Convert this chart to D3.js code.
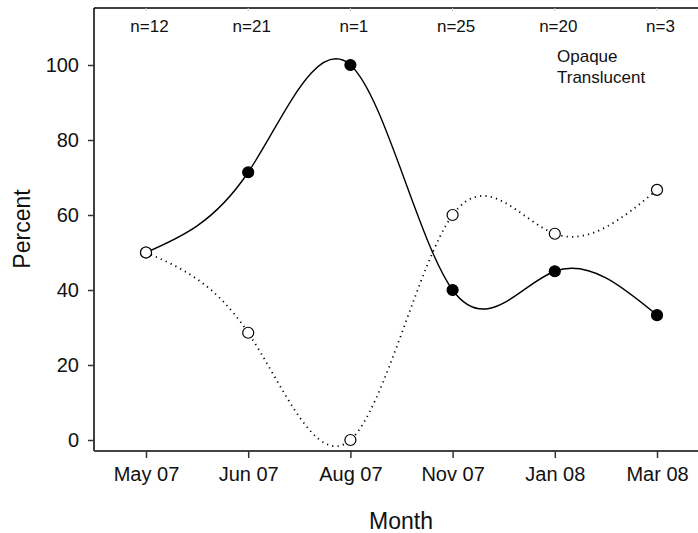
<!DOCTYPE html>
<html>
<head>
<meta charset="utf-8">
<script src="https://cdn.jsdelivr.net/npm/d3@7"></script>
<style>
  html, body { margin: 0; padding: 0; background: #fff; }
  svg { display: block; font-family: "Liberation Sans", Arial, sans-serif; }
</style>
</head>
<body>
<svg id="chart" width="698" height="533"></svg>
<script>
// Sampling months and sample sizes
const months = ["May 07", "Jun 07", "Aug 07", "Nov 07", "Jan 08", "Mar 08"];
const sampleSizes = [12, 21, 1, 25, 20, 3];

// Percent of samples in each class
const opaque = [50, 71.4, 100, 40, 45, 33.3];
const translucent = [50, 28.6, 0, 60, 55, 66.7];

const yTicks = [0, 20, 40, 60, 80, 100];
const legendLabels = ["Opaque", "Translucent"];

const svg = d3.select("#chart");
const frame = { left: 94, top: 8, right: 698, bottom: 451 };

const x = d3.scalePoint().domain(months).range([146, 657]);
const y = d3.scaleLinear().domain([0, 100]).range([440, 65]);

// frame: top and left borders
svg.append("line").attr("x1", frame.left).attr("x2", frame.right).attr("y1", frame.top).attr("y2", frame.top)
  .attr("stroke", "#000").attr("stroke-width", 1.5);
svg.append("line").attr("x1", frame.left).attr("x2", frame.left).attr("y1", frame.top).attr("y2", frame.bottom)
  .attr("stroke", "#000").attr("stroke-width", 1.5);

// faint ticks along the top border
svg.append("g").selectAll("line").data(months).join("line")
  .attr("x1", d => x(d)).attr("x2", d => x(d))
  .attr("y1", frame.top).attr("y2", frame.top + 3)
  .attr("stroke", "#ccc").attr("stroke-width", 1);

// x axis
const xAxis = svg.append("g").attr("transform", `translate(0,${frame.bottom})`)
  .call(d3.axisBottom(x).tickSize(7).tickSizeOuter(0).tickPadding(9));
xAxis.select(".domain").attr("d", `M${frame.left},0H${frame.right}`).attr("stroke", "#444").attr("stroke-width", 2);
xAxis.selectAll(".tick line").attr("stroke", "#333").attr("stroke-width", 1.5);
xAxis.selectAll(".tick text").attr("font-size", 20).attr("fill", "#111")
  .attr("font-family", "Liberation Sans, Arial, sans-serif");

// y axis
const yAxis = svg.append("g").attr("transform", `translate(${frame.left},0)`)
  .call(d3.axisLeft(y).tickValues(yTicks).tickSize(6).tickSizeOuter(0).tickPadding(9));
yAxis.select(".domain").remove();
yAxis.selectAll(".tick line").attr("stroke", "#333").attr("stroke-width", 1.5);
yAxis.selectAll(".tick text").attr("font-size", 20).attr("fill", "#111")
  .attr("font-family", "Liberation Sans, Arial, sans-serif");

// axis titles
svg.append("text").attr("x", 401).attr("y", 529).attr("text-anchor", "middle")
  .attr("font-size", 23).attr("fill", "#111").text("Month");
svg.append("text").attr("transform", `translate(30,229) rotate(-90)`).attr("text-anchor", "middle")
  .attr("font-size", 23).attr("fill", "#111").text("Percent");

// sample sizes along the top
svg.append("g").selectAll("text").data(sampleSizes).join("text")
  .attr("x", (d, i) => x(months[i]) + 3.5).attr("y", 32)
  .attr("text-anchor", "middle").attr("font-size", 17).attr("fill", "#111")
  .text(d => "n=" + d);

// smoothed lines
const line = d3.line().x((d, i) => x(months[i])).y(d => y(d)).curve(d3.curveNatural);
svg.append("path").datum(opaque).attr("d", line)
  .attr("fill", "none").attr("stroke", "#000").attr("stroke-width", 1.4);
svg.append("path").datum(translucent).attr("d", line)
  .attr("fill", "none").attr("stroke", "#000").attr("stroke-width", 1.8)
  .attr("stroke-dasharray", "1.2,4.2").attr("stroke-linecap", "butt");

// markers: filled first so open circles sit on top where they coincide
svg.append("g").selectAll("circle").data(opaque).join("circle")
  .attr("cx", (d, i) => x(months[i])).attr("cy", d => y(d)).attr("r", 5.5)
  .attr("fill", "#000").attr("stroke", "#000").attr("stroke-width", 1.2);
svg.append("g").selectAll("circle").data(translucent).join("circle")
  .attr("cx", (d, i) => x(months[i])).attr("cy", d => y(d)).attr("r", 5.5)
  .attr("fill", "#fff").attr("stroke", "#000").attr("stroke-width", 1.2);

// legend labels
svg.append("g").selectAll("text").data(legendLabels).join("text")
  .attr("x", 557).attr("y", (d, i) => 62 + i * 21)
  .attr("font-size", 17).attr("fill", "#111").text(d => d);
</script>
</body>
</html>
